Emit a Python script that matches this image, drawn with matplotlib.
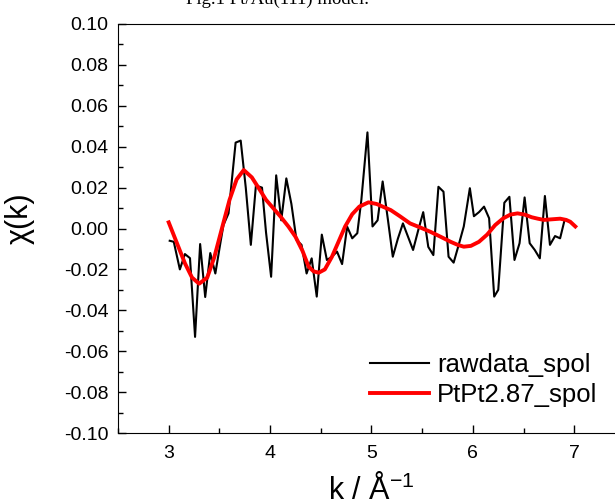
import matplotlib
matplotlib.use("Agg")
import matplotlib.pyplot as plt
from matplotlib.ticker import MultipleLocator, FuncFormatter

plt.rcParams['font.family'] = ['Liberation Sans', 'DejaVu Sans']
plt.rcParams['mathtext.fontset'] = 'custom'
plt.rcParams['mathtext.rm'] = 'Liberation Sans'
plt.rcParams['mathtext.it'] = 'Liberation Sans'
plt.rcParams['axes.unicode_minus'] = False

# datos
k_raw = [3.01, 3.05, 3.11, 3.16, 3.21, 3.26, 3.31, 3.36, 3.41, 3.46, 3.51, 3.54,
         3.59, 3.66, 3.71, 3.76, 3.81, 3.86, 3.92, 3.96, 4.01, 4.06, 4.11, 4.16,
         4.21, 4.26, 4.31, 4.36, 4.41, 4.46, 4.51, 4.56, 4.61, 4.66, 4.71, 4.76,
         4.81, 4.86, 4.90, 4.96, 5.01, 5.06, 5.11, 5.16, 5.21, 5.26, 5.31, 5.36,
         5.41, 5.46, 5.51, 5.56, 5.61, 5.66, 5.71, 5.76, 5.81, 5.86, 5.91, 5.97,
         6.01, 6.06, 6.11, 6.16, 6.21, 6.25, 6.31, 6.36, 6.41, 6.46, 6.51, 6.56,
         6.61, 6.66, 6.71, 6.76, 6.81, 6.86, 6.90]
chi_raw = [-0.006, -0.0065, -0.020, -0.0125, -0.0145, -0.053, -0.0076, -0.0335, -0.012, -0.022, -0.007, 0.0017,
           0.0074, 0.042, 0.043, 0.020, -0.008, 0.021, 0.020, -0.002, -0.0236, 0.026, 0.004, 0.0245,
           0.012, -0.0056, -0.008, -0.022, -0.0146, -0.0333, -0.003, -0.0154, -0.0138, -0.0113, -0.0174, 0.0009,
           -0.0048, -0.0023, 0.014, 0.047, 0.001, 0.004, 0.023, 0.005, -0.0138, -0.005, 0.0025, -0.004,
           -0.0105, -0.001, 0.008, -0.009, -0.013, 0.0204, 0.018, -0.0138, -0.0167, -0.008, 0.001, 0.0197,
           0.006, 0.008, 0.0107, 0.005, -0.0333, -0.030, 0.0126, 0.0155, -0.0154, -0.0072, 0.0152, -0.0072,
           -0.0105, -0.0146, 0.0159, -0.008, -0.0037, -0.0048, 0.0033]

k_fit = [3.00, 3.08, 3.16, 3.23, 3.30, 3.38, 3.45, 3.53, 3.60, 3.67, 3.74, 3.82,
         3.91, 3.96, 4.03, 4.10, 4.18, 4.25, 4.32, 4.38, 4.43, 4.48, 4.54, 4.61,
         4.67, 4.74, 4.81, 4.88, 4.97, 5.05, 5.12, 5.19, 5.28, 5.38, 5.48, 5.58,
         5.68, 5.78, 5.85, 5.91, 5.98, 6.06, 6.14, 6.22, 6.30, 6.37, 6.44, 6.51,
         6.58, 6.64, 6.70, 6.78, 6.86, 6.92, 6.96, 7.01]
chi_fit = [0.003, -0.007, -0.017, -0.024, -0.027, -0.024, -0.014, 0.001, 0.014, 0.024, 0.0286, 0.025,
           0.018, 0.014, 0.010, 0.006, 0.001, -0.004, -0.011, -0.0187, -0.021, -0.0216, -0.020, -0.0138,
           -0.007, 0.001, 0.007, 0.0107, 0.0128, 0.012, 0.0105, 0.009, 0.006, 0.0025, 0.0005, -0.0016,
           -0.004, -0.0065, -0.008, -0.0089, -0.0085, -0.0065, -0.003, 0.0017, 0.005, 0.0068, 0.0074, 0.0068,
           0.0055, 0.0048, 0.0042, 0.0045, 0.0048, 0.0042, 0.0033, 0.001]

fig = plt.figure(figsize=(6.15, 5.04), dpi=100)
ax = fig.add_axes([118 / 615, 71 / 504, 507 / 615, 409 / 504])

ax.plot(k_raw, chi_raw, color='black', lw=1.5, label='rawdata_spol')
ax.plot(k_fit, chi_fit, color='#ff0000', lw=2.8, label='PtPt2.87_spol')

ax.set_xlim(2.5, 7.5)
ax.set_ylim(-0.10, 0.10)
ax.xaxis.set_major_locator(MultipleLocator(1))
ax.xaxis.set_minor_locator(MultipleLocator(0.5))
ax.yaxis.set_major_locator(MultipleLocator(0.02))
ax.yaxis.set_minor_locator(MultipleLocator(0.01))
ax.yaxis.set_major_formatter(FuncFormatter(lambda v, p: '%.2f' % (round(v, 4) + 0.0)))
ax.tick_params(which='both', direction='in', top=False, right=False, labelsize=14, pad=7)
ax.tick_params(which='major', length=6, width=1)
ax.tick_params(which='minor', length=3.5, width=1)
ax.tick_params(axis='x', pad=9)

ax.set_xlabel(r'k / Å$^{-1}$', fontsize=22)
ax.xaxis.set_label_coords(0.5, -0.10)
ax.set_ylabel('χ(k)', fontsize=22)
ax.yaxis.set_label_coords(-0.165, 0.526)

ax.legend(loc='upper left', bbox_to_anchor=(370 / 615, 1 - 353 / 504),
          bbox_transform=fig.transFigure, frameon=False, fontsize=18.5,
          borderaxespad=0, borderpad=0, handlelength=2.3, handletextpad=0.3,
          labelspacing=0.25)

fig.text(278 / 615, 1 - 4 / 504, 'Fig.1 Pt/Au(111) model.', ha='center', va='baseline',
         fontsize=13.5, family=['Liberation Serif', 'DejaVu Serif'])

fig.savefig('out.png', dpi=100)
